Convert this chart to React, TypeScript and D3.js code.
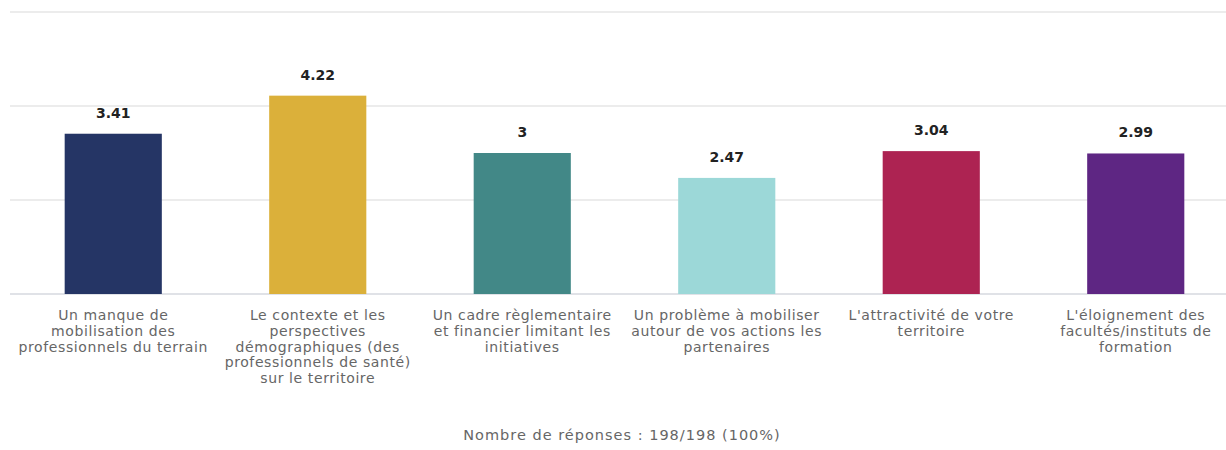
import React from 'react';
import * as d3 from 'd3';

// categories (already split on the lines shown under each bar)
const categories: string[][] = [
  ['Un manque de', 'mobilisation des', 'professionnels du terrain'],
  ['Le contexte et les', 'perspectives', 'démographiques (des', 'professionnels de santé)', 'sur le territoire'],
  ['Un cadre règlementaire', 'et financier limitant les', 'initiatives'],
  ['Un problème à mobiliser', 'autour de vos actions les', 'partenaires'],
  ["L'attractivité de votre", 'territoire'],
  ["L'éloignement des", 'facultés/instituts de', 'formation'],
];
const values = [3.41, 4.22, 3, 2.47, 3.04, 2.99];
const colors = ['#253565', '#dbb03a', '#428887', '#9cd8d8', '#ad2352', '#5e2683'];
const yTicks = [0, 2, 4, 6];
const footer = 'Nombre de réponses : 198/198 (100%)';

const W = 1226;
const H = 450;
const font = '"DejaVu Sans", Verdana, sans-serif';

export default function App() {
  const x = d3.scaleBand<number>()
    .domain(d3.range(values.length))
    .range([11, 1238])
    .paddingInner(0.525)
    .paddingOuter(0.2625);

  const y = d3.scaleLinear()
    .domain([0, 6])
    .range([294, 12]);

  return (
    <svg width={W} height={H} style={{ position: 'absolute', left: 0, top: 0, background: '#fff' }}>
      {yTicks.map((t) => (
        <line key={t} x1={10} x2={W} y1={y(t)} y2={y(t)}
          stroke={t === 0 ? '#d6d9df' : '#e6e6e6'} strokeWidth={1.5} />
      ))}
      {values.map((v, i) => {
        const cx = x(i)! + x.bandwidth() / 2;
        return (
          <g key={i}>
            <rect x={x(i)} y={y(v)} width={x.bandwidth()} height={y(0) - y(v)} fill={colors[i]} />
            <text x={cx} y={y(v) - 16} textAnchor="middle"
              fontFamily={font} fontWeight="bold" fontSize={14} fill="#222">{String(v)}</text>
            <text x={cx} y={320} textAnchor="middle"
              fontFamily={font} fontSize={14} letterSpacing={0.6} fill="#666">
              {categories[i].map((l, j) => (
                <tspan key={j} x={cx} dy={j === 0 ? 0 : 15.8}>{l}</tspan>
              ))}
            </text>
          </g>
        );
      })}
      <text x={622} y={440} textAnchor="middle" fontFamily={font} fontSize={14.5} letterSpacing={1} fill="#666">{footer}</text>
    </svg>
  );
}
